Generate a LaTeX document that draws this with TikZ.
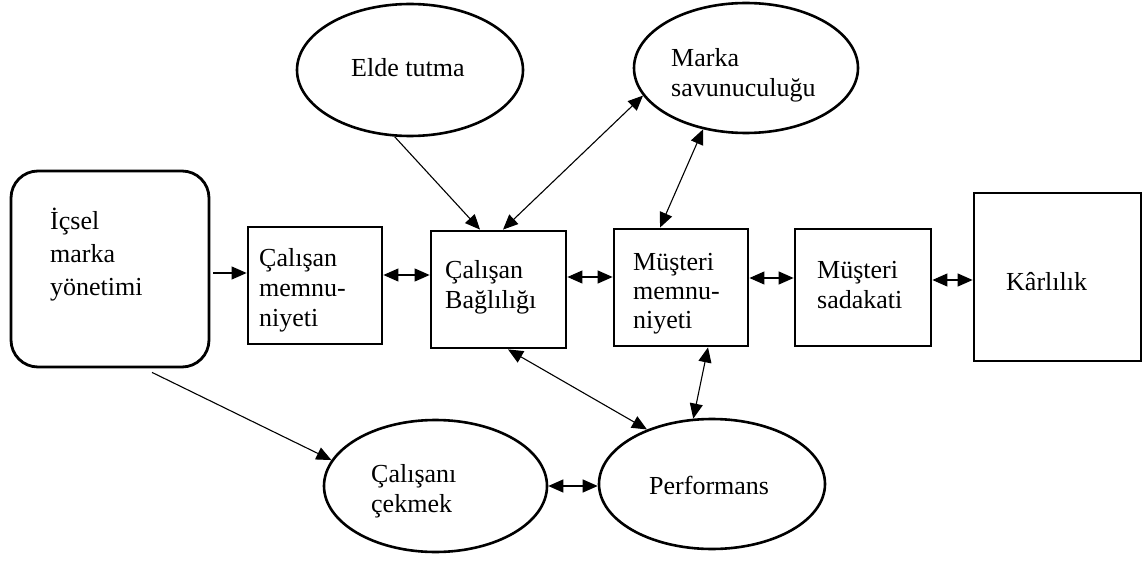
\documentclass[tikz,border=0pt]{standalone}
\usepackage{fontspec}
\setmainfont{Liberation Serif}
\usetikzlibrary{arrows.meta,calc,shapes.geometric}
\begin{document}
\begin{tikzpicture}[x=1pt,y=-1pt,
  box/.style={draw, rectangle, line width=2.8pt, inner sep=0pt},
  oval/.style={draw, ellipse, line width=2.6pt, inner sep=0pt},
  % multi-line labels are placed by the baseline of their last line
  lbl/.style={anchor=base west, align=left, inner sep=0pt,
    font=\fontsize{26}{30}\selectfont},
  tip/.tip={Triangle[length=15pt,width=13pt]},
  link/.style={line width=1.1pt, -tip},
  both/.style={line width=1.1pt, tip-tip}]
\useasboundingbox (0,0) rectangle (1145,561);

% boxes of the chain
\node[box, rounded corners=27pt, minimum width=198pt, minimum height=196pt] (imb) at (110,269) {};
\node[box, minimum width=134pt, minimum height=117pt] (csm) at (315,285.5) {};
\node[box, minimum width=135pt, minimum height=117pt] (cb) at (498.5,289.5) {};
\node[box, minimum width=134pt, minimum height=117pt] (mm) at (681,287.5) {};
\node[box, minimum width=136pt, minimum height=117pt] (ms) at (863,287.5) {};
\node[box, minimum width=167pt, minimum height=168pt] (kr) at (1057.5,277) {};

% ovals
\node[oval, minimum width=226pt, minimum height=132pt] (elde) at (410,70) {};
\node[oval, minimum width=224pt, minimum height=130pt] (marka) at (746,68) {};
\node[oval, minimum width=223pt, minimum height=132pt] (cc) at (435.5,486) {};
\node[oval, minimum width=226pt, minimum height=130pt] (perf) at (712,484) {};

% texts
\node[lbl, font=\fontsize{26}{33}\selectfont] (timb) at (50,295) {İçsel\\marka\\yönetimi};
\node[lbl] (tcsm) at (259,326) {Çalışan\\memnu-\\niyeti};
\node[lbl] (tcb) at (445,308) {Çalışan\\Bağlılığı};
\node[lbl, font=\fontsize{26}{29}\selectfont] (tmm) at (633,328) {Müşteri\\memnu-\\niyeti};
\node[lbl] (tms) at (817,308) {Müşteri\\sadakati};
\node[lbl] (tkr) at (1006,290) {Kârlılık};
\node[lbl] (telde) at (351,77) {Elde tutma};
\node[lbl] (tmarka) at (671,97) {Marka\\savunuculuğu};
\node[lbl] (tcc) at (371,512) {Çalışanı\\çekmek};
\node[lbl] (tperf) at (649,494) {Performans};

% connectors
\draw[link] ($(imb.east |- 0,273)+(3,0)$) -- (csm.west |- 0,273);
\draw[both] (csm.east |- 0,275) -- (cb.west |- 0,275);
\draw[both] (cb.east |- 0,277) -- (mm.west |- 0,277);
\draw[both] (mm.east |- 0,278) -- (ms.west |- 0,278);
\draw[both] (ms.east |- 0,280) -- (kr.west |- 0,280);
\draw[link] (elde.257) -- (cb.north -| 480,0);
\draw[both] (cb.north -| 503,0) -- (marka.195);
\draw[both] (mm.north -| 660,0) -- (marka.235);
\draw[both] (cb.south -| 508,0) -- (perf.140);
\draw[both] (mm.south -| 708,0) -- (perf.106);
\draw[link] ($(imb.south -| 152,0)+(0,4)$) -- (cc.166);
\draw[both] (cc.east) -- (perf.west |- cc.east);
\end{tikzpicture}
\end{document}
